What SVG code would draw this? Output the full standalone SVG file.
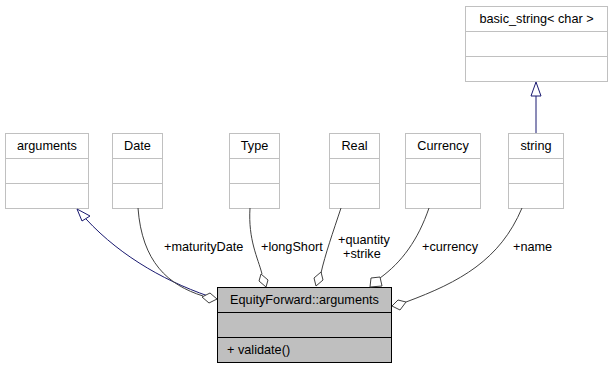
<svg xmlns="http://www.w3.org/2000/svg" width="612" height="369" viewBox="0 0 612 369">
  <style>
    .box { fill: #ffffff; stroke: #c0c0c0; stroke-width: 1; }
    .main { fill: #bfbfbf; stroke: #000000; stroke-width: 1; }
    .sep { stroke: #c0c0c0; stroke-width: 1; }
    .msep { stroke: #000000; stroke-width: 1; }
    text { font-family: "Liberation Sans", Arial, sans-serif; font-size: 12.7px; fill: #000000; }
    .c { text-anchor: middle; }
    .assoc { fill: none; stroke: #404040; stroke-width: 1; }
    .inh { fill: none; stroke: #191970; stroke-width: 1; }
    .dia { fill: #ffffff; stroke: #404040; stroke-width: 1; }
  </style>
  <rect width="612" height="369" fill="#ffffff"/>

  <g id="node-arguments">
    <rect class="box" x="5.5" y="133.5" width="83" height="75"/>
    <line class="sep" x1="5.5" y1="158.5" x2="88.5" y2="158.5"/>
    <line class="sep" x1="5.5" y1="183.5" x2="88.5" y2="183.5"/>
    <text class="c" x="47" y="150">arguments</text>
  </g>
  <g id="node-date">
    <rect class="box" x="112.5" y="133.5" width="50" height="75"/>
    <line class="sep" x1="112.5" y1="158.5" x2="162.5" y2="158.5"/>
    <line class="sep" x1="112.5" y1="183.5" x2="162.5" y2="183.5"/>
    <text class="c" x="137.5" y="150">Date</text>
  </g>
  <g id="node-type">
    <rect class="box" x="229.5" y="133.5" width="50" height="75"/>
    <line class="sep" x1="229.5" y1="158.5" x2="279.5" y2="158.5"/>
    <line class="sep" x1="229.5" y1="183.5" x2="279.5" y2="183.5"/>
    <text class="c" x="254.5" y="150">Type</text>
  </g>
  <g id="node-real">
    <rect class="box" x="329.5" y="133.5" width="50" height="75"/>
    <line class="sep" x1="329.5" y1="158.5" x2="379.5" y2="158.5"/>
    <line class="sep" x1="329.5" y1="183.5" x2="379.5" y2="183.5"/>
    <text class="c" x="354.5" y="150">Real</text>
  </g>
  <g id="node-currency">
    <rect class="box" x="405.5" y="133.5" width="75" height="75"/>
    <line class="sep" x1="405.5" y1="158.5" x2="480.5" y2="158.5"/>
    <line class="sep" x1="405.5" y1="183.5" x2="480.5" y2="183.5"/>
    <text class="c" x="443" y="150">Currency</text>
  </g>
  <g id="node-string">
    <rect class="box" x="508.5" y="133.5" width="55" height="75"/>
    <line class="sep" x1="508.5" y1="158.5" x2="563.5" y2="158.5"/>
    <line class="sep" x1="508.5" y1="183.5" x2="563.5" y2="183.5"/>
    <text class="c" x="536" y="150">string</text>
  </g>
  <g id="node-basic-string">
    <rect class="box" x="465.5" y="6.5" width="142" height="75"/>
    <line class="sep" x1="465.5" y1="31.5" x2="607.5" y2="31.5"/>
    <line class="sep" x1="465.5" y1="56.5" x2="607.5" y2="56.5"/>
    <text class="c" x="536.5" y="23">basic_string&lt; char &gt;</text>
  </g>
  <g id="node-equityforward-arguments">
    <rect class="main" x="217.5" y="287.5" width="174" height="75"/>
    <line class="msep" x1="217.5" y1="312.5" x2="391.5" y2="312.5"/>
    <line class="msep" x1="217.5" y1="337.5" x2="391.5" y2="337.5"/>
    <text class="c" x="304.5" y="304">EquityForward::arguments</text>
    <text x="227" y="354">+ validate()</text>
  </g>

  <g id="connectors">
    <!-- inheritance: EquityForward::arguments -> arguments -->
    <path class="inh" d="M217,299 C170,284 122,258 86,219"/>
    <polygon fill="#ffffff" stroke="#191970" stroke-width="1" points="77,209 90,216 82,221"/>
    <!-- inheritance: string -> basic_string< char > -->
    <line class="inh" x1="536" y1="133" x2="536" y2="96"/>
    <polygon fill="#ffffff" stroke="#191970" stroke-width="1" points="536,82 531,96 541,96"/>

    <!-- +maturityDate -->
    <path class="assoc" d="M138,208 C142,262 168,285 203,296"/>
    <polygon class="dia" points="217,299 209,303 202,297 210,293"/>
    <!-- +longShort -->
    <path class="assoc" d="M250,208 C248,240 258,258 262,274"/>
    <polygon class="dia" points="266,287 259,281 261,274 268,280"/>
    <!-- +quantity +strike -->
    <path class="assoc" d="M341,208 C333,232 325,255 321,273"/>
    <polygon class="dia" points="316,286 314,278 321,272 323,280"/>
    <!-- +currency -->
    <path class="assoc" d="M429,208 C418,240 402,262 380,278"/>
    <polygon class="dia" points="370,287 371,278 380,277 382,286"/>
    <!-- +name -->
    <path class="assoc" d="M522,208 C500,260 460,282 406,302"/>
    <polygon class="dia" points="392,306 398,300 406,302 400,310"/>

    <text x="164" y="251">+maturityDate</text>
    <text x="261" y="251">+longShort</text>
    <text x="338" y="244">+quantity</text>
    <text x="343" y="258">+strike</text>
    <text x="422" y="251">+currency</text>
    <text x="513" y="251">+name</text>
  </g>
</svg>
